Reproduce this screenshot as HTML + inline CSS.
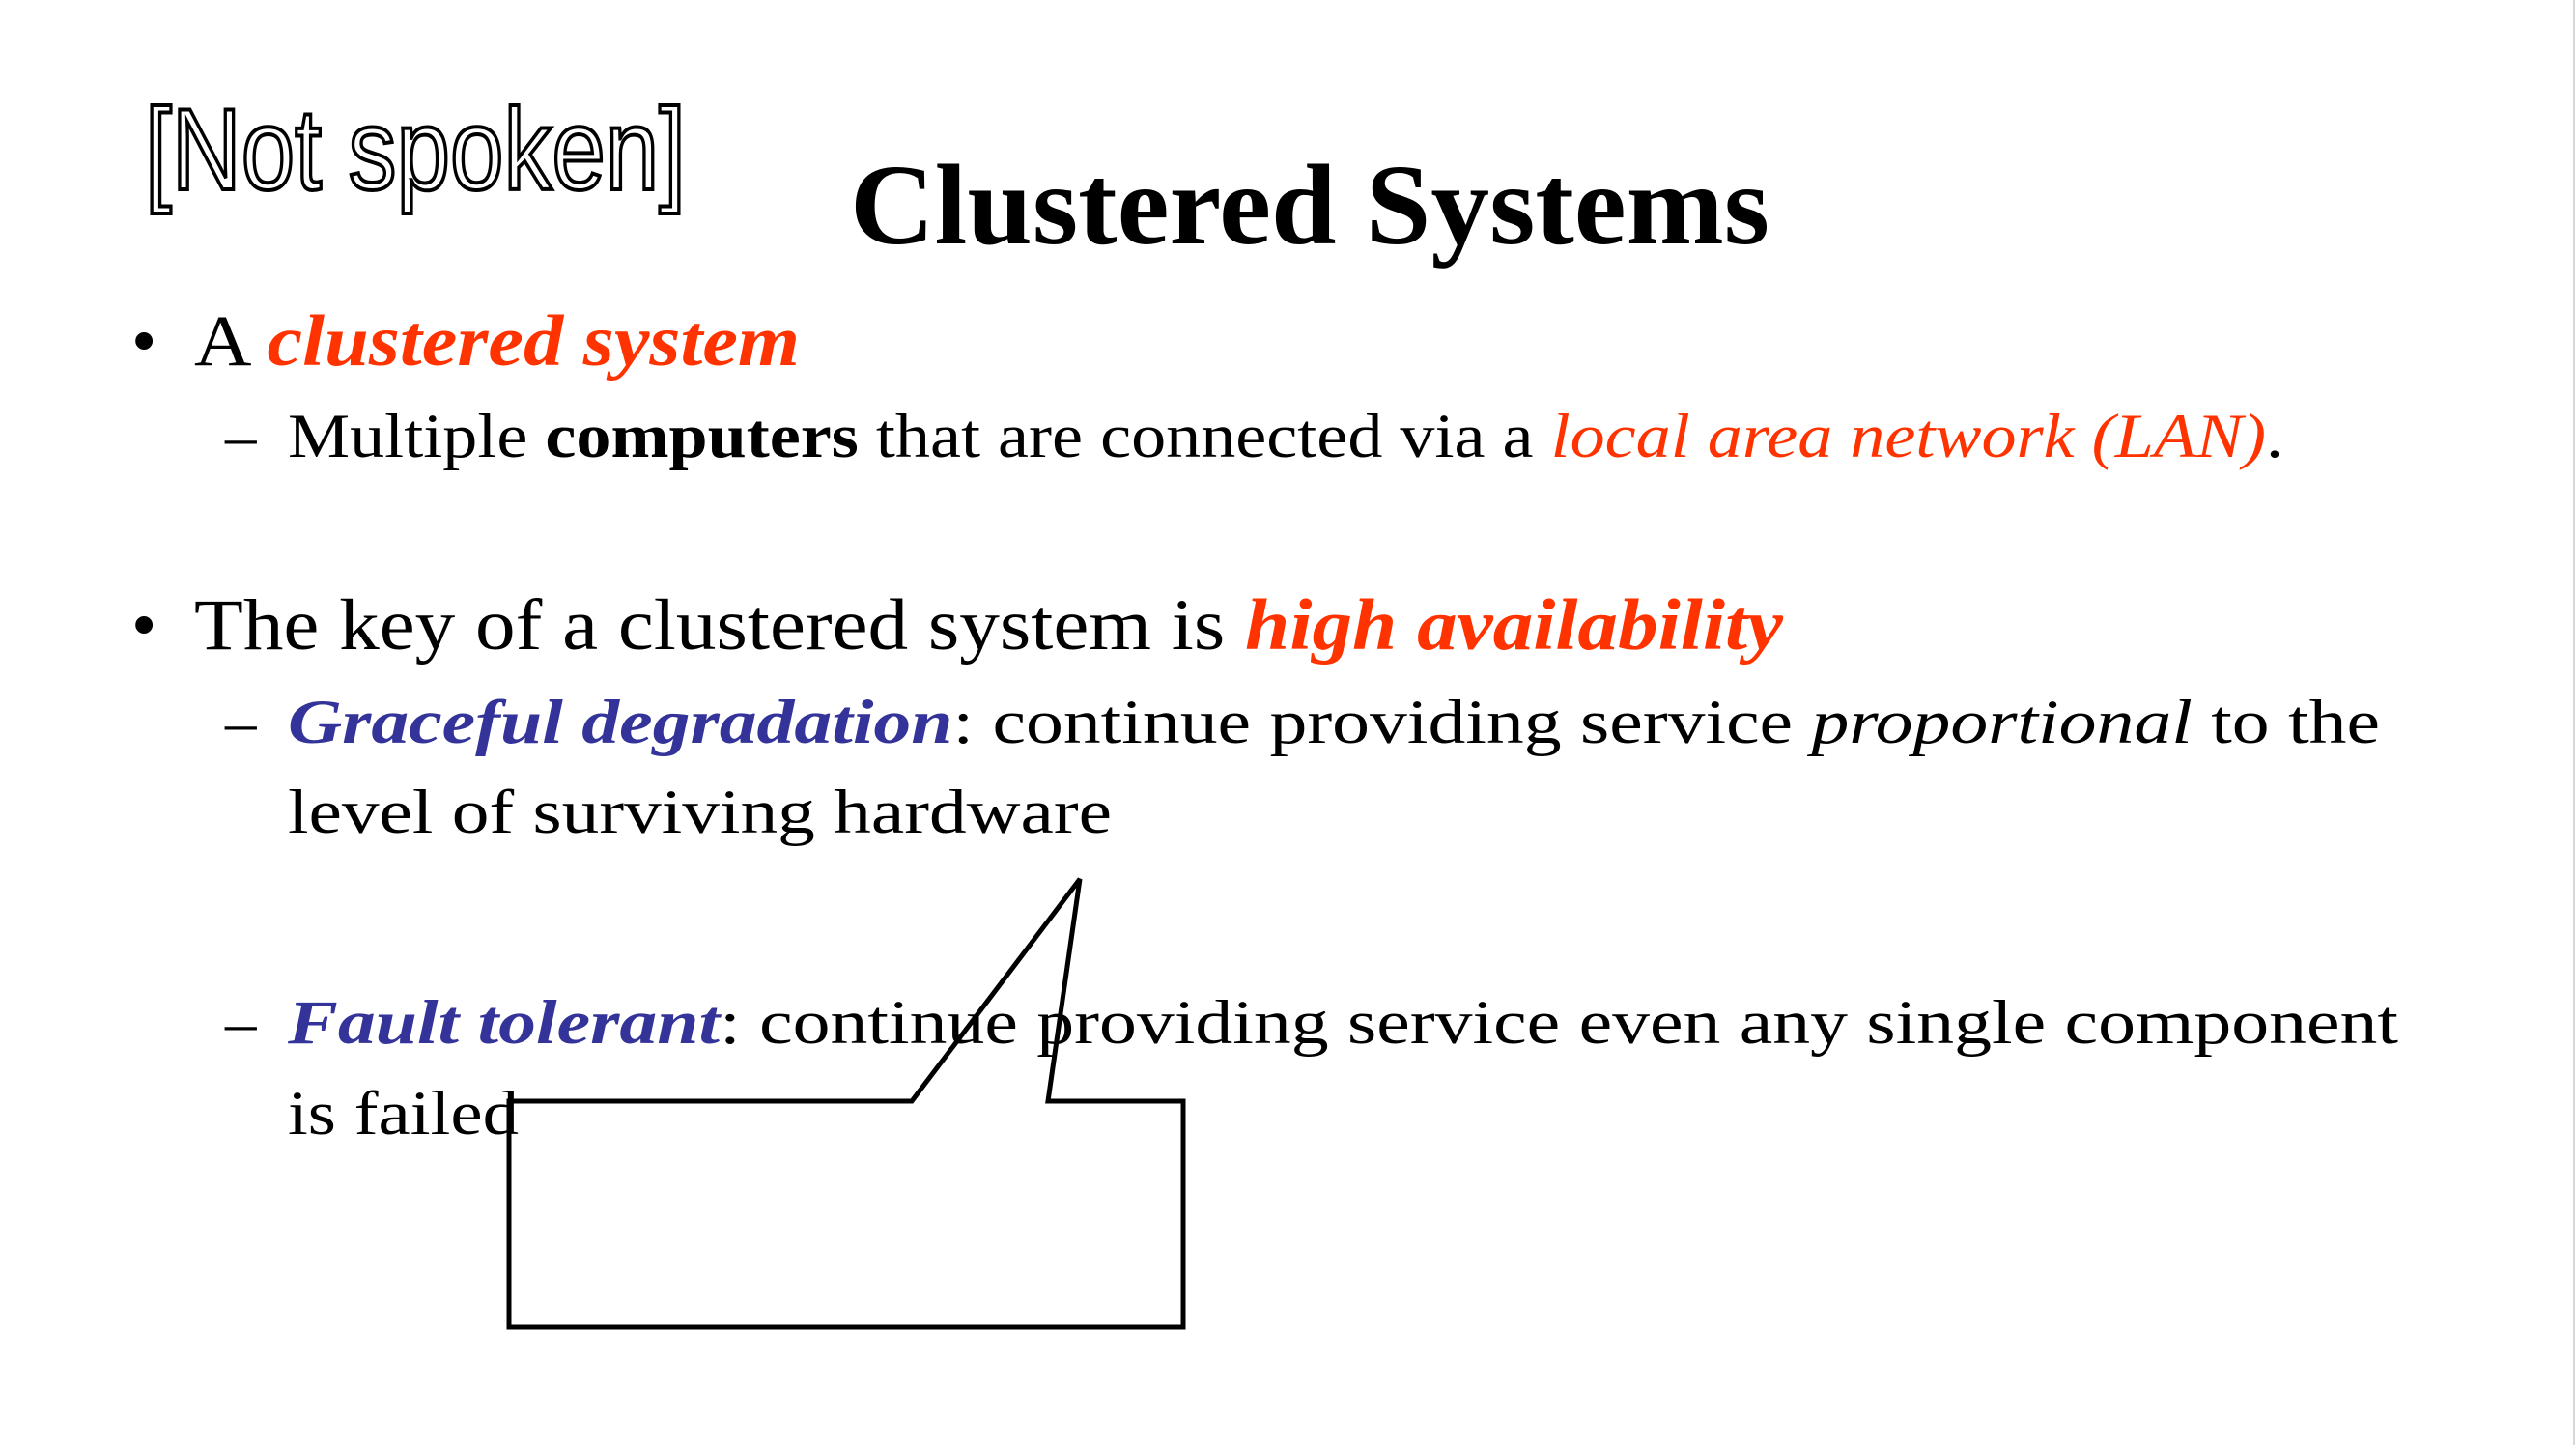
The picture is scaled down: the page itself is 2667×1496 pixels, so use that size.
<!DOCTYPE html>
<html><head><meta charset="utf-8"><style>
html,body{margin:0;padding:0;background:#fff;}
svg{display:block;}
text{font-family:"Liberation Serif",serif;}
.r{fill:#ff3300;}
.b{fill:#333399;}
</style></head><body>
<svg width="2667" height="1496" viewBox="0 0 2667 1496" xmlns="http://www.w3.org/2000/svg">
<rect width="2667" height="1496" fill="#fff"/>
<line x1="2665" y1="0" x2="2665" y2="1496" stroke="#d8d8d8" stroke-width="2"/>
<text x="150" y="196" font-family="Liberation Sans Narrow, Liberation Sans, sans-serif" style="font-family:'Liberation Sans Narrow','Liberation Sans',sans-serif" font-size="120" font-weight="normal" fill="none" stroke="#000" stroke-width="4" textLength="560" lengthAdjust="spacingAndGlyphs">[Not spoken]</text>
<text x="880" y="252" font-size="119" font-weight="bold" textLength="952" lengthAdjust="spacingAndGlyphs">Clustered Systems</text>

<text x="136" y="378" font-size="75">•</text>
<text x="201" y="378" font-size="75" textLength="627" lengthAdjust="spacingAndGlyphs">A <tspan class="r" font-weight="bold" font-style="italic">clustered system</tspan></text>

<text x="233" y="473" font-size="65">–</text>
<text x="298" y="473" font-size="65" textLength="2066" lengthAdjust="spacingAndGlyphs">Multiple <tspan font-weight="bold">computers</tspan> that are connected via a <tspan class="r" font-style="italic">local area network (LAN)</tspan>.</text>

<text x="136" y="672" font-size="75">•</text>
<text x="201" y="672" font-size="75" textLength="1645" lengthAdjust="spacingAndGlyphs">The key of a clustered system is <tspan class="r" font-weight="bold" font-style="italic">high availability</tspan></text>

<text x="233" y="769" font-size="65">–</text>
<text x="298" y="769" font-size="65" textLength="2166" lengthAdjust="spacingAndGlyphs"><tspan class="b" font-weight="bold" font-style="italic">Graceful degradation</tspan>: continue providing service <tspan font-style="italic">proportional</tspan> to the</text>
<text x="298" y="862" font-size="65" textLength="853" lengthAdjust="spacingAndGlyphs">level of surviving hardware</text>

<text x="233" y="1080" font-size="65">–</text>
<text x="298" y="1080" font-size="65" textLength="2185" lengthAdjust="spacingAndGlyphs"><tspan class="b" font-weight="bold" font-style="italic">Fault tolerant</tspan>: continue providing service even any single component</text>
<text x="298" y="1174" font-size="65" textLength="239" lengthAdjust="spacingAndGlyphs">is failed</text>

<polygon points="527,1140 944,1140 1118,910 1085,1140 1225,1140 1225,1374 527,1374" fill="none" stroke="#000" stroke-width="5" stroke-linejoin="miter"/>
</svg>
</body></html>
